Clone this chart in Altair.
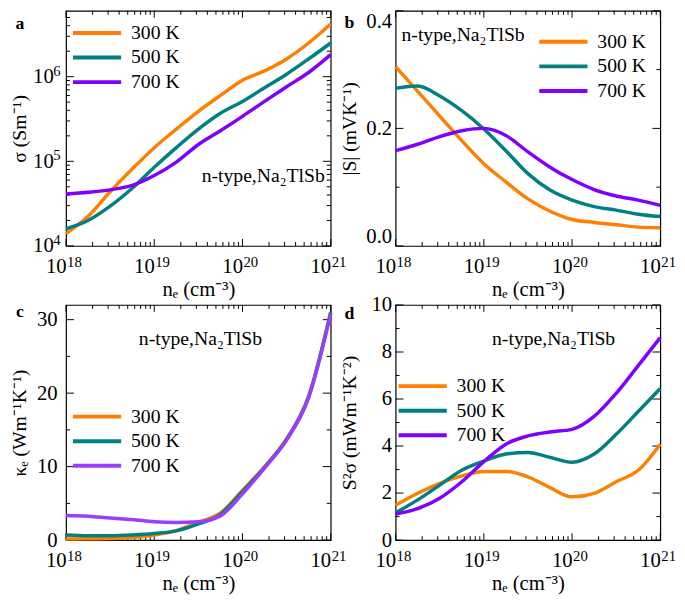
import altair as alt
import pandas as pd

# carrier concentration (cm^-3)
ne = [1e18, 1.778e18, 3.162e18, 5.623e18, 1e19, 1.778e19, 3.162e19, 5.623e19,
      1e20, 1.778e20, 3.162e20, 5.623e20, 1e21]
temps = ["300 K", "500 K", "700 K"]

# a: electrical conductivity (S/m)
sigma_300 = [1.4e4, 2.24e4, 4.37e4, 8.1e4, 1.45e5, 2.4e5, 3.9e5, 6.0e5, 9.1e5, 1.17e6, 1.62e6, 2.5e6, 4.2e6]
sigma_500 = [1.6e4, 2.0e4, 2.95e4, 4.8e4, 8.5e4, 1.45e5, 2.4e5, 3.7e5, 5.1e5, 7.4e5, 1.07e6, 1.62e6, 2.5e6]
sigma_700 = [4.1e4, 4.3e4, 4.6e4, 5.2e4, 6.8e4, 9.8e4, 1.58e5, 2.3e5, 3.4e5, 5.1e5, 7.6e5, 1.12e6, 1.82e6]

# b: |S| (mV/K)
s_300 = [0.305, 0.263, 0.221, 0.179, 0.140, 0.109, 0.080, 0.059, 0.045, 0.040, 0.036, 0.032, 0.031]
s_500 = [0.268, 0.272, 0.255, 0.230, 0.199, 0.162, 0.123, 0.095, 0.078, 0.067, 0.061, 0.054, 0.050]
s_700 = [0.162, 0.173, 0.186, 0.196, 0.200, 0.188, 0.160, 0.134, 0.113, 0.096, 0.085, 0.078, 0.069]

# c: electronic thermal conductivity (W/mK)
k_300 = [0.15, 0.18, 0.2, 0.35, 0.7, 1.3, 2.4, 3.7, 6.8, 10.0, 13.8, 19.6, 31.0]
k_500 = [0.7, 0.6, 0.6, 0.7, 0.9, 1.25, 2.2, 3.5, 6.6, 9.9, 13.7, 19.5, 31.0]
k_700 = [3.35, 3.25, 3.0, 2.8, 2.5, 2.4, 2.5, 3.3, 6.3, 9.8, 13.6, 19.4, 30.8]

# d: power factor (mW/mK^2)
pf_300 = [1.48, 1.99, 2.41, 2.73, 2.92, 2.92, 2.69, 2.23, 1.84, 1.99, 2.48, 2.97, 4.08]
pf_500 = [1.16, 1.71, 2.34, 2.97, 3.36, 3.66, 3.73, 3.52, 3.31, 3.66, 4.50, 5.47, 6.45]
pf_700 = [1.11, 1.34, 1.78, 2.48, 3.34, 4.08, 4.43, 4.60, 4.71, 5.26, 6.24, 7.42, 8.61]

x_major = [1e18, 1e19, 1e20, 1e21]
x_exp = ["18", "19", "20", "21"]
x_minor = [m * 10 ** e for e in (18, 19, 20) for m in range(2, 10)]
a_major = [1e4, 1e5, 1e6]
a_exp = ["4", "5", "6"]
a_minor = [m * 10 ** e for e in (4, 5) for m in range(2, 10)] + [2e6, 3e6, 4e6, 5e6]
b_major = [0.0, 0.2, 0.4]
b_minor = [0.1, 0.3]
c_major = [0, 10, 20, 30]
c_minor = [5, 15, 25]
d_major = [0, 2, 4, 6, 8, 10]
d_minor = [1, 3, 5, 7, 9]

COLORS = ["#FF8000", "#008080", "#8000FF"]
COLORS_C = ["#FF8000", "#008080", "#9B3CFF"]
FONT = "Liberation Serif"
W, H = 269, 239
annot = "n-type,Na₂TlSb"


def long_df(ys):
    rows = []
    for t, arr in zip(temps, ys):
        for x, y in zip(ne, arr):
            rows.append({"ne": x, "val": y, "T": t})
    return pd.DataFrame(rows)


def panel(ys, ydomain, ylog, ymaj, ymin, ytitle, yformat, colors,
          letter, let_y, ann_x, ann_y, ann_align, leg_x, leg_y, ylabpad, yexp=None, flush=False):
    xscale = alt.Scale(type="log", domain=[1e18, 1e21], nice=False)
    yscale = alt.Scale(type="log" if ylog else "linear", domain=ydomain, nice=False, zero=False)
    xaxis = alt.Axis(values=x_major, labelExpr="'10'", labelAlign="right", title="nₑ (cm⁻³)",
                     ticks=False, grid=False, domain=False, labelPadding=10,
                     labelFontSize=21, titleFontSize=21, titleY=50, titleBaseline="alphabetic",
                     labelFlush=False, labelOverlap=False)
    yargs = dict(values=ymaj, title=ytitle, ticks=False, grid=False, domain=False,
                 labelPadding=ylabpad, labelFontSize=21, titleFontSize=20,
                 titleX=-41, titleBaseline="alphabetic",
                 labelFlush=flush, labelOverlap=False)
    if yexp is not None:
        yargs["labelExpr"] = "'10'"
    if yformat:
        yargs["format"] = yformat
    yaxis = alt.Axis(**yargs)

    lines = alt.Chart(long_df(ys)).mark_line(strokeWidth=3.5, interpolate="monotone").encode(
        x=alt.X("ne:Q", scale=xscale, axis=xaxis),
        y=alt.Y("val:Q", scale=yscale, axis=yaxis),
        color=alt.Color("T:N", scale=alt.Scale(domain=temps, range=colors),
                        legend=alt.Legend(title=None, orient="none", legendX=leg_x, legendY=leg_y,
                                          symbolType="stroke", symbolSize=2400, symbolStrokeWidth=4,
                                          labelFontSize=20, labelFont=FONT, rowPadding=0,
                                          clipHeight=25, labelOffset=8, symbolOffset=0, padding=0)),
    )

    xmaj = pd.DataFrame({"v": x_major, "e": x_exp})
    xmin = pd.DataFrame({"v": x_minor})
    ymj = pd.DataFrame({"v": ymaj})
    ymn = pd.DataFrame({"v": ymin})

    def xt(df, L):
        b = alt.Chart(df).mark_rule(color="black", strokeWidth=1)
        return [b.encode(x=alt.X("v:Q", scale=xscale), y=alt.value(H), y2=alt.value(H - L)),
                b.encode(x=alt.X("v:Q", scale=xscale), y=alt.value(0), y2=alt.value(L))]

    def yt(df, L):
        b = alt.Chart(df).mark_rule(color="black", strokeWidth=1)
        return [b.encode(y=alt.Y("v:Q", scale=yscale), x=alt.value(0), x2=alt.value(L)),
                b.encode(y=alt.Y("v:Q", scale=yscale), x=alt.value(W), x2=alt.value(W - L))]

    ticks = xt(xmaj, 7) + xt(xmin, 4) + yt(ymj, 8) + yt(ymn, 4)

    xexp = alt.Chart(xmaj).mark_text(font=FONT, fontSize=15, align="left", baseline="alphabetic",
                                      dx=1, color="black").encode(
        x=alt.X("v:Q", scale=xscale), y=alt.value(H + 21), text="e:N")
    extra = [xexp]
    if yexp is not None:
        ydf = pd.DataFrame({"v": ymaj, "e": yexp})
        extra.append(alt.Chart(ydf).mark_text(font=FONT, fontSize=15, align="left", baseline="middle",
                                              dy=-6, color="black").encode(
            y=alt.Y("v:Q", scale=yscale), x=alt.value(-ylabpad), text="e:N"))

    ann = alt.Chart(pd.DataFrame({"t": [annot]})).mark_text(
        font=FONT, fontSize=20, align=ann_align, baseline="middle", color="black"
    ).encode(text="t:N", x=alt.value(ann_x), y=alt.value(ann_y))
    lab = alt.Chart(pd.DataFrame({"t": [letter]})).mark_text(
        font=FONT, fontSize=18, fontWeight="bold", align="center", baseline="middle", color="black"
    ).encode(text="t:N", x=alt.value(-47), y=alt.value(let_y))

    return alt.layer(*ticks, lines, *extra, ann, lab).properties(width=W, height=H)


pa = panel([sigma_300, sigma_500, sigma_700], [1e4, 6e6], True, a_major, a_minor,
           "σ (Sm⁻¹)", None, COLORS, "a", 13, 263, 168, "right", 5, 10, 13, yexp=a_exp)
pb = panel([s_300, s_500, s_700], [0, 0.4], False, b_major, b_minor,
           "|S| (mVK⁻¹)", ".1f", COLORS, "b", 12, 6, 25, "left", 144, 19, 4, flush=True)
pc = panel([k_300, k_500, k_700], [0, 32], False, c_major, c_minor,
           "κₑ (Wm⁻¹K⁻¹)", "d", COLORS_C, "c", 7, 74, 35, "left", 5, 101, 9)
pd_ = panel([pf_300, pf_500, pf_700], [0, 10], False, d_major, d_minor,
            "S²σ (mWm⁻¹K⁻²)", "d", COLORS, "d", 9, 98, 35, "left", 1, 70, 4)

chart = alt.concat(pa, pb, pc, pd_, columns=2, spacing={"row": 60, "column": 66},
                   bounds="flush").resolve_scale(color="independent").resolve_legend(
    color="independent").configure(padding={"top": -4, "left": 1, "right": 0, "bottom": 0},
                                   background="white"
).configure_view(stroke="black", strokeWidth=1.2).configure_axis(
    labelFont=FONT, titleFont=FONT, labelColor="black", titleColor="black", titleFontWeight="normal"
).configure_text(font=FONT)

chart.save("out.html", embed_options={"renderer": "svg", "actions": False})
